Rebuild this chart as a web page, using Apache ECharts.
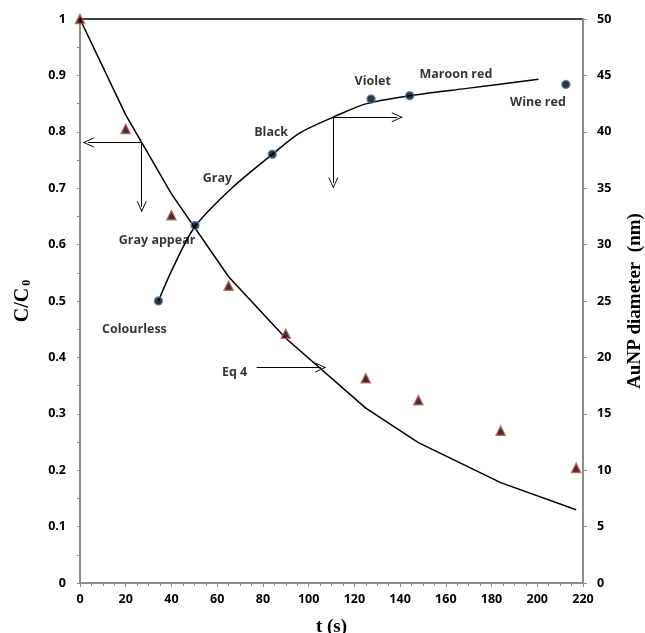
<!DOCTYPE html>
<html>
<head>
<meta charset="utf-8">
<script src="https://cdn.jsdelivr.net/npm/echarts@6/dist/echarts.min.js"></script>
<style>
  html, body { margin: 0; padding: 0; background: #fff; }
  #chart { width: 645px; height: 633px; }
</style>
</head>
<body>
<div id="chart"></div>
<script>
// measured C/C0 (triangles)
var timeC = [0, 20, 40, 65, 90, 125, 148, 184, 217];
var ratioC = [1, 0.805, 0.652, 0.527, 0.442, 0.363, 0.324, 0.27, 0.204];
// Eq 4 model line
var eqT = [0, 20, 40, 65, 90, 125, 148, 184, 217];
var eqC = [1, 0.83, 0.69, 0.543, 0.434, 0.31, 0.249, 0.178, 0.13];
// AuNP diameter (circles, right axis)
var dT = [34.3, 50.3, 84.1, 127.3, 144.2, 212.5];
var dNm = [25, 31.7, 38, 42.9, 43.2, 44.2];
// diameter trend curve
var fitT = [34.3, 40.8, 50.3, 66.9, 84.1, 96.2, 110.8, 125.4, 144.2, 169.2, 200.5];
var fitNm = [25, 28, 31.6, 35.1, 38, 39.9, 41.3, 42.5, 43.2, 43.85, 44.65];
// colour annotations, placed in t / C/C0 units
var noteT = [23.8, 33.7, 60.1, 83.6, 128.0, 164.4, 200.3, 67.6];
var noteY = [0.449, 0.608, 0.718, 0.799, 0.890, 0.902, 0.852, 0.374];
var noteText = ["Colourless", "Gray appear", "Gray", "Black", "Violet", "Maroon red", "Wine red", "Eq 4"];

function zip(a, b) {
  return a.map(function (v, i) { return [v, b[i]]; });
}

// open V arrow head
var vHead = "path://M5,0 L10,10 L9,10 L5,2 L1,10 L0,10 Z";
var tickFont = { color: "#000", fontSize: 12.5, fontWeight: "bold", fontFamily: "Open Sans" };
var nameFont = { color: "#000", fontSize: 19, fontWeight: "bold", fontFamily: "Liberation Serif" };

var chart = echarts.init(document.getElementById("chart"));
var option = {
  animation: false,
  backgroundColor: "#fff",
  grid: {
    left: 80, right: 62, top: 19, bottom: 50,
    outerBoundsMode: "none",
    show: true, borderColor: "#000", borderWidth: 1.5
  },
  xAxis: {
    type: "value", min: 0, max: 220, interval: 20,
    name: "t (s)", nameLocation: "middle", nameGap: 35,
    nameTextStyle: nameFont,
    axisLine: { lineStyle: { color: "#8c8c8c", width: 2 } },
    axisTick: { inside: false, length: 4, lineStyle: { color: "#8c8c8c" } },
    minorTick: { show: true, splitNumber: 4, length: 3, lineStyle: { color: "#8c8c8c" } },
    axisLabel: Object.assign({ margin: 10 }, tickFont),
    splitLine: { show: false }
  },
  yAxis: [
    {
      type: "value", min: 0, max: 1, interval: 0.1,
      name: "{a|C/C}{b|0}", nameLocation: "middle", nameGap: 47,
      nameTextStyle: {
        rich: {
          a: { color: "#000", fontSize: 20, fontWeight: "bold", fontFamily: "Liberation Serif" },
          b: { color: "#000", fontSize: 12, fontWeight: "bold", fontFamily: "Liberation Serif", padding: [9, 0, 0, 2] }
        }
      },
      axisLine: { lineStyle: { color: "#8c8c8c", width: 2 } },
      axisTick: { length: 3, lineStyle: { color: "#8c8c8c" } },
      minorTick: { show: true, splitNumber: 2, length: 3, lineStyle: { color: "#8c8c8c" } },
      axisLabel: Object.assign({ margin: 14 }, tickFont),
      splitLine: { show: false }
    },
    {
      type: "value", min: 0, max: 50, interval: 5, position: "right",
      name: "AuNP diameter  (nm)", nameLocation: "middle", nameGap: 43,
      nameTextStyle: nameFont,
      axisLine: { show: true, lineStyle: { color: "#8c8c8c", width: 2 } },
      axisTick: { show: true, length: 4, lineStyle: { color: "#8c8c8c" } },
      axisLabel: Object.assign({ margin: 14 }, tickFont),
      splitLine: { show: false }
    }
  ],
  series: [
    {
      name: "Eq 4",
      type: "line",
      data: zip(eqT, eqC),
      symbol: "none",
      lineStyle: { color: "#000", width: 1.5 },
      z: 3,
      markLine: {
        silent: true,
        symbol: ["none", vHead],
        symbolSize: [10, 11],
        label: { show: false },
        lineStyle: { color: "#000", width: 1, type: "solid" },
        itemStyle: { color: "#000" },
        data: [
          [{ coord: [27, 0.781] }, { coord: [3.6, 0.781] }],
          [{ coord: [27, 0.781] }, { coord: [27, 0.667] }],
          [{ coord: [110.8, 0.826] }, { coord: [138.8, 0.826] }],
          [{ coord: [110.8, 0.826] }, { coord: [110.8, 0.709] }],
          [{ coord: [77.3, 0.382] }, { coord: [105.3, 0.382] }]
        ]
      }
    },
    {
      name: "C/C0",
      type: "scatter",
      data: zip(timeC, ratioC),
      symbol: "triangle",
      symbolSize: 9,
      itemStyle: { color: "#000", borderColor: "#c0504d", borderWidth: 1.5 },
      z: 5
    },
    {
      name: "diameter fit",
      type: "line",
      yAxisIndex: 1,
      data: zip(fitT, fitNm),
      symbol: "none",
      smooth: 0.3,
      lineStyle: { color: "#000", width: 1.5 },
      z: 3
    },
    {
      name: "diameter",
      type: "scatter",
      yAxisIndex: 1,
      data: zip(dT, dNm),
      symbol: "circle",
      symbolSize: 8,
      itemStyle: { color: "#000", borderColor: "#4f81bd", borderWidth: 1.5 },
      z: 5
    },
    {
      name: "notes",
      type: "scatter",
      silent: true,
      symbolSize: 0,
      data: noteT.map(function (t, i) { return { value: [t, noteY[i]], name: noteText[i] }; }),
      label: Object.assign({
        show: true, position: "inside", formatter: "{b}"
      }, tickFont),
      z: 6
    }
  ]
};
chart.setOption(option);
</script>
</body>
</html>
